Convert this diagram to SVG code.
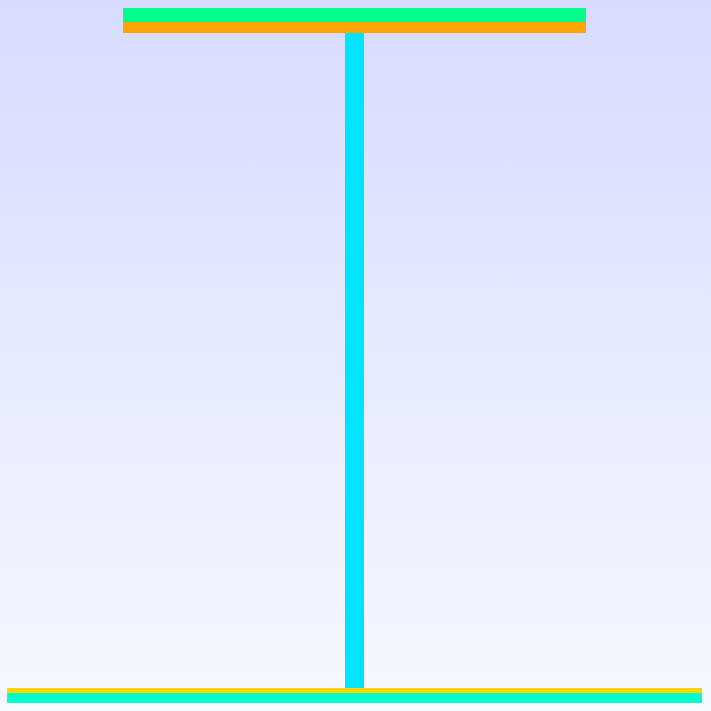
<svg xmlns="http://www.w3.org/2000/svg" width="711" height="711" viewBox="0 0 711 711">
<defs>
<linearGradient id="bg" x1="0" y1="0" x2="0" y2="1">
<stop offset="0" stop-color="#d7dcff"/>
<stop offset="1" stop-color="#f8f8ff"/>
</linearGradient>
</defs>
<rect width="711" height="711" fill="url(#bg)"/>
<g id="top-flange">
<rect x="123" y="8" width="463" height="14" fill="#00ff88"/>
<rect x="123" y="22" width="463" height="11" fill="#ffa500"/>
</g>
<g id="web">
<rect x="345" y="33" width="19" height="655" fill="#00e5ff"/>
</g>
<g id="bottom-flange">
<rect x="7" y="688" width="695" height="5" fill="#ffd700"/>
<rect x="7" y="693" width="695" height="10" fill="#00ffcc"/>
</g>
</svg>
